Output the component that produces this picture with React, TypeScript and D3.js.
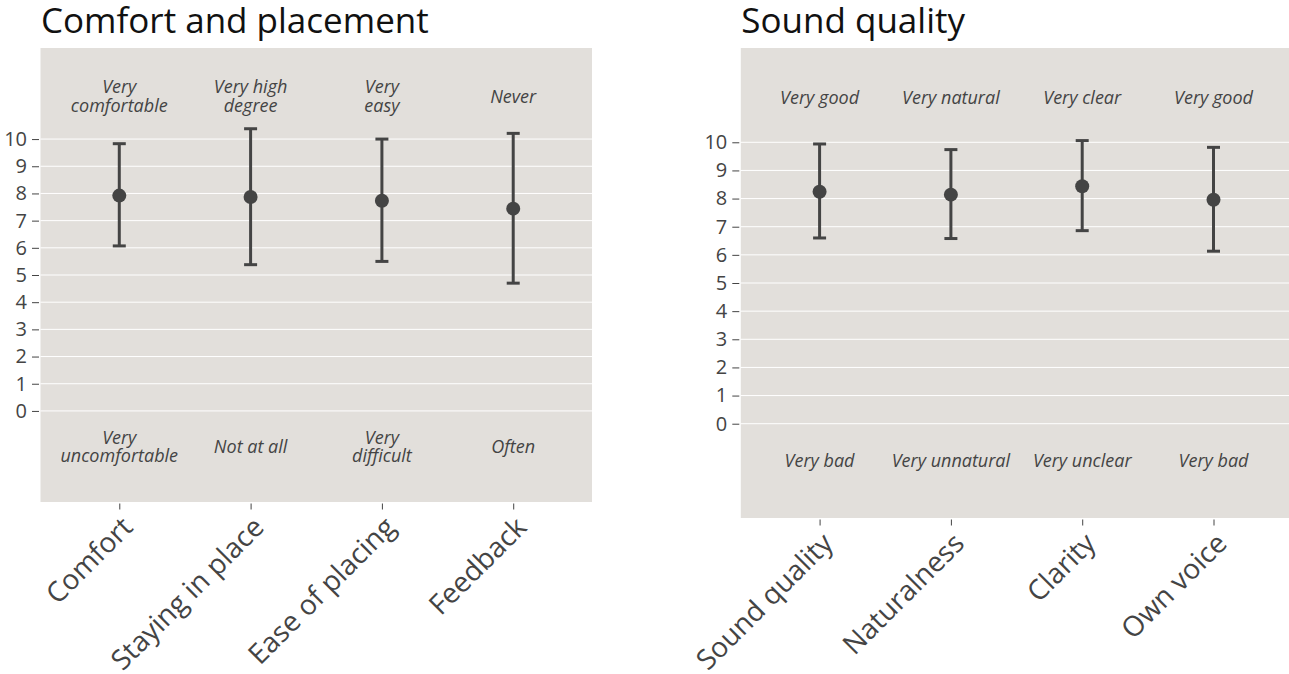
import * as React from 'react'
import { useEffect, useRef } from 'react'
import * as d3 from 'd3'

// Comfort and placement panel
const comfortCategories = ['Comfort', 'Staying in place', 'Ease of placing', 'Feedback']
const comfortMeans = [7.92, 7.87, 7.73, 7.44]
const comfortLow = [6.07, 5.38, 5.5, 4.7]
const comfortHigh = [9.83, 10.38, 10.0, 10.21]
const comfortTopLabels = [['Very', 'comfortable'], ['Very high', 'degree'], ['Very', 'easy'], ['Never']]
const comfortBottomLabels = [['Very', 'uncomfortable'], ['Not at all'], ['Very', 'difficult'], ['Often']]

// Sound quality panel
const soundCategories = ['Sound quality', 'Naturalness', 'Clarity', 'Own voice']
const soundMeans = [8.24, 8.14, 8.44, 7.96]
const soundLow = [6.6, 6.58, 6.86, 6.13]
const soundHigh = [9.94, 9.74, 10.06, 9.82]
const soundTopLabels = [['Very good'], ['Very natural'], ['Very clear'], ['Very good']]
const soundBottomLabels = [['Very bad'], ['Very unnatural'], ['Very unclear'], ['Very bad']]

const yTicks = [0, 1, 2, 3, 4, 5, 6, 7, 8, 9, 10]
const yDomain: [number, number] = [-3.35, 13.35]
const topLabelValue = 11.56
const bottomLabelValue = -1.33

const FONT = '"Open Sans", "Noto Sans", sans-serif'
const INK = '#444'

interface PanelProps {
  svg: SVGSVGElement
  title: string
  categories: string[]
  means: number[]
  low: number[]
  high: number[]
  topLabels: string[][]
  bottomLabels: string[][]
  left: number
  top: number
  width: number
  height: number
}

function drawPanel({ svg, title, categories, means, low, high, topLabels, bottomLabels, left, top, width, height }: PanelProps) {
  const root = d3.select(svg)
  const g = root.append('g').attr('transform', `translate(${left}, ${top})`)

  const x = d3.scalePoint<string>().domain(categories).range([0, width]).padding(0.6)
  const y = d3.scaleLinear().domain(yDomain).range([height, 0])

  // title
  root.append('text')
    .attr('x', left + 0.5)
    .attr('y', 33)
    .attr('font-family', FONT)
    .attr('font-size', 35)
    .attr('fill', '#111')
    .text(title)

  // background
  g.append('rect')
    .attr('width', width)
    .attr('height', height)
    .attr('fill', '#e2dfdb')

  // gridlines
  g.selectAll('line.grid')
    .data(yTicks)
    .join('line')
    .attr('class', 'grid')
    .attr('x1', 0)
    .attr('x2', width)
    .attr('y1', d => y(d))
    .attr('y2', d => y(d))
    .attr('stroke', '#fff')
    .attr('stroke-width', 1)

  // y axis
  const yAxis = d3.axisLeft(y).tickValues(yTicks).tickSize(7).tickPadding(5).tickFormat(d3.format('d'))
  const ya = g.append('g').attr('transform', 'translate(-1.5, 0)').call(yAxis as any)
  ya.select('.domain').remove()
  ya.selectAll('line').attr('stroke', INK)
  ya.selectAll('text')
    .attr('font-family', FONT)
    .attr('font-size', 20)
    .attr('fill', INK)

  // x axis
  const xAxis = d3.axisBottom(x).tickSize(6).tickFormat(() => '')
  const xa = g.append('g').attr('transform', `translate(0, ${height + 1.5})`).call(xAxis as any)
  xa.select('.domain').remove()
  xa.selectAll('line').attr('stroke', INK)

  categories.forEach(c => {
    g.append('text')
      .attr('transform', `translate(${x(c)! + 15}, ${height + 27}) rotate(-45)`)
      .attr('text-anchor', 'end')
      .attr('font-family', FONT)
      .attr('font-size', 28)
      .attr('fill', INK)
      .text(c)
  })

  // error bars
  const cap = 6.5
  categories.forEach((c, i) => {
    const cx = x(c)!
    g.append('line')
      .attr('x1', cx).attr('x2', cx)
      .attr('y1', y(high[i])).attr('y2', y(low[i]))
      .attr('stroke', INK).attr('stroke-width', 3)
    ;[high[i], low[i]].forEach(v => {
      g.append('line')
        .attr('x1', cx - cap).attr('x2', cx + cap)
        .attr('y1', y(v)).attr('y2', y(v))
        .attr('stroke', INK).attr('stroke-width', 3)
    })
    g.append('circle')
      .attr('cx', cx)
      .attr('cy', y(means[i]))
      .attr('r', 7)
      .attr('fill', INK)
  })

  // scale end annotations
  const lineGap = 18.6
  const annotate = (lines: string[], cx: number, cy: number) => {
    const t = g.append('text')
      .attr('text-anchor', 'middle')
      .attr('font-family', FONT)
      .attr('font-style', 'italic')
      .attr('font-size', 18)
      .attr('fill', INK)
    lines.forEach((ln, k) => {
      t.append('tspan')
        .attr('x', cx)
        .attr('y', cy + (k - (lines.length - 1) / 2) * lineGap + 6)
        .text(ln)
    })
  }
  categories.forEach((c, i) => {
    annotate(topLabels[i], x(c)!, y(topLabelValue))
    annotate(bottomLabels[i], x(c)!, y(bottomLabelValue))
  })
}

export default function App() {
  const svgRef = useRef<SVGSVGElement>(null)

  useEffect(() => {
    if (!svgRef.current) return
    const svg = svgRef.current
    d3.select(svg).selectAll('*').remove()

    drawPanel({
      svg,
      title: 'Comfort and placement',
      categories: comfortCategories,
      means: comfortMeans,
      low: comfortLow,
      high: comfortHigh,
      topLabels: comfortTopLabels,
      bottomLabels: comfortBottomLabels,
      left: 40.5,
      top: 48,
      width: 551.5,
      height: 454,
    })

    drawPanel({
      svg,
      title: 'Sound quality',
      categories: soundCategories,
      means: soundMeans,
      low: soundLow,
      high: soundHigh,
      topLabels: soundTopLabels,
      bottomLabels: soundBottomLabels,
      left: 740.8,
      top: 48,
      width: 551.5,
      height: 470,
    })
  }, [])

  return (
    <svg
      ref={svgRef}
      width={1289}
      height={674}
      style={{ position: 'absolute', left: 0, top: 0, background: '#fff' }}
    />
  )
}
